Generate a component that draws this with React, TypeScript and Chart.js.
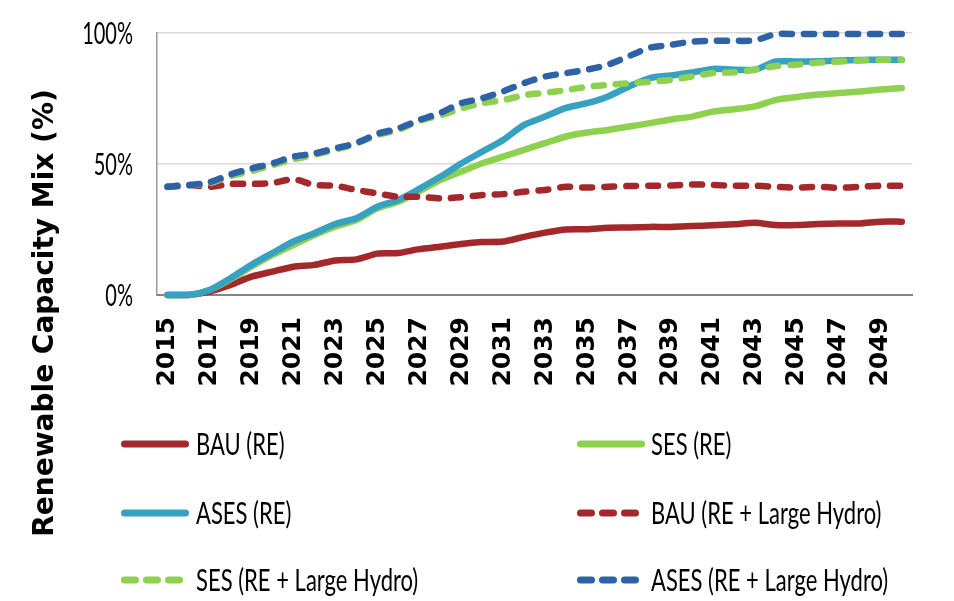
import React, { useEffect, useRef } from 'react';
import { Chart, registerables } from 'chart.js';

Chart.register(...registerables);

const years = [
  '2015', '2016', '2017', '2018', '2019', '2020', '2021', '2022', '2023', '2024', '2025', '2026',
  '2027', '2028', '2029', '2030', '2031', '2032', '2033', '2034', '2035', '2036', '2037', '2038',
  '2039', '2040', '2041', '2042', '2043', '2044', '2045', '2046', '2047', '2048', '2049', '2050',
];

const bauRE = [
  0, 0, 1.3, 3.8, 7, 8.9, 10.8, 11.5, 13.2, 13.6, 15.8, 16,
  17.5, 18.4, 19.5, 20.2, 20.4, 22.2, 23.8, 25, 25.1, 25.7, 25.8, 26,
  26, 26.3, 26.6, 27, 27.6, 26.7, 26.7, 27.1, 27.3, 27.3, 28, 28,
];
const sesRE = [
  0, 0, 1.9, 6, 10.8, 15.3, 19.1, 22.9, 26.1, 28.6, 33.1, 35.6,
  39.6, 43.9, 47.1, 50.3, 52.8, 55.4, 58, 60.5, 62, 63, 64.3, 65.6,
  67, 68.1, 70, 70.9, 72, 74.5, 75.6, 76.5, 77.1, 77.7, 78.4, 79,
];
const asesRE = [
  0, 0, 1.9, 6.4, 11.5, 16, 20.4, 23.6, 27.1, 29.3, 33.7, 36.3,
  40.5, 45.1, 50.2, 54.7, 59.2, 64.9, 68.1, 71.4, 73.2, 75.8, 79.6, 82.8,
  83.8, 84.9, 86.3, 86, 86, 89.1, 89.1, 89.2, 89.5, 89.7, 89.8, 89.8,
];
const bauLH = [
  41.3, 42, 41.3, 42.4, 42.4, 42.7, 44.2, 42, 41.7, 40.1, 38.8, 37.5,
  37.5, 36.9, 37.3, 38.2, 38.5, 39.4, 40.1, 41.3, 41, 41.3, 41.6, 41.7,
  41.8, 42.2, 42, 41.7, 41.7, 41.3, 41, 41.3, 40.9, 41.3, 41.7, 41.7,
];
const sesLH = [
  41.3, 41.9, 42.6, 45.4, 47.3, 49.5, 51.8, 53.5, 55.5, 57.8, 61, 63,
  66.5, 68.5, 71.2, 73.2, 74.4, 76.3, 77.2, 78.2, 79.5, 80.2, 80.8, 81.4,
  82.1, 83.4, 84.7, 85, 86, 87.4, 87.9, 88.7, 89.1, 89.5, 89.8, 89.8,
];
const asesLH = [
  41.3, 41.9, 43, 46, 48.3, 50.2, 52.8, 54, 56, 58, 61.5, 63.6,
  66.8, 69.5, 73.2, 75.1, 77.7, 80.9, 83.4, 84.7, 86, 87.9, 91.2, 94.4,
  95.5, 96.7, 97, 97, 97.2, 99.6, 99.6, 99.6, 99.6, 99.6, 99.6, 99.6,
];

const seriesNames = [
  'BAU (RE)',
  'SES (RE)',
  'ASES (RE)',
  'BAU (RE + Large Hydro)',
  'SES (RE + Large Hydro)',
  'ASES (RE + Large Hydro)',
];
const seriesValues = [bauRE, sesRE, asesRE, bauLH, sesLH, asesLH];
const seriesColors = ['#a3282b', '#8dd14e', '#37a1c1', '#a3282b', '#8dd14e', '#2e62a6'];
const seriesDashed = [false, false, false, true, true, true];

const yTickValues = [0, 50, 100];
const yTitle = 'Renewable Capacity Mix (%)';

const overlayPlugin = {
  id: 'overlay',
  afterDraw(chart: any) {
    const ctx: CanvasRenderingContext2D = chart.ctx;
    const ys = chart.scales.y;
    ctx.save();
    ctx.fillStyle = '#000';

    // y tick labels (condensed look)
    ctx.font = '20px Lato';
    ctx.textAlign = 'right';
    ctx.textBaseline = 'middle';
    yTickValues.forEach((v) => {
      const py = ys.getPixelForValue(v);
      ctx.save();
      ctx.translate(133, py + 1);
      ctx.scale(1, 1.5);
      ctx.fillText(v + '%', 0, 0);
      ctx.restore();
    });

    // y axis title
    ctx.save();
    ctx.translate(46, 313);
    ctx.rotate(-Math.PI / 2);
    ctx.font = 'bold 28px "DejaVu Sans"';
    ctx.textAlign = 'center';
    ctx.textBaseline = 'middle';
    ctx.fillText(yTitle, 0, 0);
    ctx.restore();

    // legend
    const colSwatch = [121, 577];
    const colText = [196, 651];
    const rowY = [444, 513, 580];
    const swLen = 68;
    chart.data.datasets.forEach((ds: any, i: number) => {
      const col = i % 2;
      const row = Math.floor(i / 2);
      const x0 = colSwatch[col];
      const y = rowY[row];
      ctx.save();
      ctx.strokeStyle = ds.borderColor;
      ctx.lineWidth = 7;
      ctx.lineCap = 'round';
      ctx.beginPath();
      if (ds.borderDash && ds.borderDash.length) {
        ctx.setLineDash([11, 11]);
        ctx.moveTo(x0 + 3.5, y);
        ctx.lineTo(x0 + 3.5 + 55, y);
      } else {
        ctx.moveTo(x0 + 3.5, y);
        ctx.lineTo(x0 + swLen - 3.5, y);
      }
      ctx.stroke();
      ctx.restore();

      ctx.save();
      ctx.font = '22px Lato';
      ctx.textAlign = 'left';
      ctx.textBaseline = 'middle';
      ctx.translate(colText[col], y + 1);
      ctx.scale(1, 1.38);
      ctx.fillStyle = '#000';
      ctx.fillText(ds.label, 0, 0);
      ctx.restore();
    });

    ctx.restore();
  },
};

export default function App() {
  const canvasRef = useRef<HTMLCanvasElement | null>(null);

  useEffect(() => {
    if (!canvasRef.current) return;
    const datasets = seriesNames.map((name, i) => ({
      label: name,
      data: seriesValues[i],
      borderColor: seriesColors[i],
      backgroundColor: seriesColors[i],
      borderWidth: 6.5,
      borderDash: seriesDashed[i] ? [10, 12] : [],
      borderCapStyle: 'round' as const,
      borderJoinStyle: 'round' as const,
      pointRadius: 0,
      pointHoverRadius: 0,
      tension: 0.25,
      fill: false,
      order: seriesNames.length - i,
      clip: 6,
    }));

    const chart = new Chart(canvasRef.current, {
      type: 'line',
      data: { labels: years, datasets },
      options: {
        responsive: false,
        animation: false,
        devicePixelRatio: 1,
        layout: { padding: { top: 33, right: 17, left: 0, bottom: 0 } },
        plugins: {
          legend: { display: false },
          tooltip: { enabled: false },
        },
        scales: {
          x: {
            offset: true,
            grid: { display: false, drawTicks: false },
            border: { display: true, color: '#858585', width: 2 },
            ticks: {
              autoSkip: false,
              minRotation: 90,
              maxRotation: 90,
              padding: 22,
              color: '#000',
              font: { family: '"DejaVu Sans"', weight: 'bold', size: 25 },
              callback: (_v: any, idx: number) => (idx % 2 === 0 ? years[idx] : ''),
            },
            afterFit: (scale: any) => {
              scale.height = 306;
            },
          },
          y: {
            min: 0,
            max: 100,
            ticks: { display: false, stepSize: 50 },
            grid: { color: '#d9d9d9', lineWidth: 1.5, drawTicks: false },
            border: { display: true, color: '#9a9a9a', width: 1.5 },
            afterFit: (scale: any) => {
              scale.width = 157;
            },
          },
        },
      },
      plugins: [overlayPlugin],
    });

    return () => chart.destroy();
  }, []);

  return (
    <div style={{ position: 'fixed', left: 0, top: 0, width: 954, height: 601, background: '#fff' }}>
      <canvas ref={canvasRef} width={954} height={601} style={{ display: 'block' }} />
    </div>
  );
}
